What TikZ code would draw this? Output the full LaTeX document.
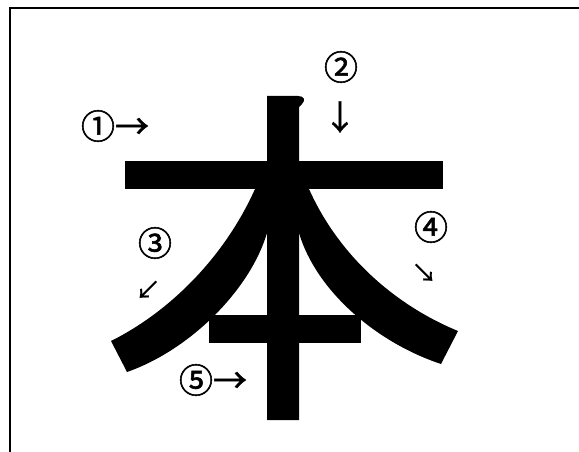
\documentclass[tikz,border=0pt]{standalone}
\usepackage{fontspec}
\newfontfamily\jpfont[FakeBold=1.6]{Noto Sans CJK JP}
\newfontfamily\jparrow[FakeBold=0.8]{Noto Sans CJK JP}
\begin{document}
\begin{tikzpicture}[
  x=1pt, y=-1pt,
  ink/.style={fill=black, draw=none},
  lab/.style={font=\jpfont\fontsize{34}{34}\selectfont, inner sep=0pt},
  hint/.style={font=\jparrow\fontsize{25}{25}\selectfont, inner sep=0pt}
]
\clip (0,0) rectangle (579,452);

% frame (only top and left edge fall inside the page)
\draw[line width=2pt] (10,8) rectangle (640,520);

% =======================
% Strokes of the character
% =======================
% stroke 1: top bar
\fill[ink] (125,161) rectangle (443,189);

% stroke 2: stem with small hook on top
\fill[ink] (267,96) -- (298,96) .. controls (304,96) and (306,100) .. (302,104)
  -- (299,107) -- (299,420) -- (267,420) -- cycle;

% stroke 3: left sweep
\fill[ink] (255,189) .. controls (225,256) and (171,311) .. (111,341)
  -- (127,372) .. controls (190,350) and (250,290) .. (267,233)
  -- (267,189) -- cycle;

% stroke 4: right sweep
\fill[ink] (309,189) .. controls (339,256) and (395,305) .. (458,331)
  -- (441,364) .. controls (375,342) and (316,290) .. (299,233)
  -- (299,189) -- cycle;

% stroke 5: short bar
\fill[ink] (209,315) rectangle (361,343);

% =======================
% Stroke order labels
% =======================
\node[lab] (s1) at (115,126) {①→};
\node[lab] (s2) at (341,67) {②};
\node[hint] (a2) at (340,117) {\fontsize{34}{34}\selectfont↓};
\node[lab] (s3) at (155,243) {③};
\node[hint] (a3) at (148,290) {↙};
\node[lab] (s4) at (431,227) {④};
\node[hint] (a4) at (424,273) {↘};
\node[lab] (s5) at (213,380) {⑤→};

\end{tikzpicture}
\end{document}
